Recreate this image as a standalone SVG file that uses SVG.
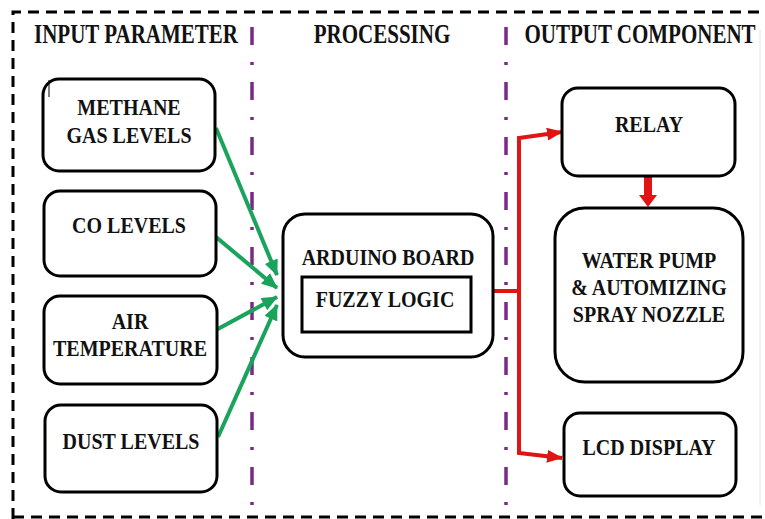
<svg xmlns="http://www.w3.org/2000/svg" width="765" height="519" viewBox="0 0 765 519">
<style>
.bg{fill:#ffffff}
.frame{fill:none;stroke:#000;stroke-width:3;stroke-dasharray:11 7}
.div{fill:none;stroke:#7a2a86;stroke-width:3.5;stroke-dasharray:18 17 3 17}
.box{fill:#fff;stroke:#000;stroke-width:3}
.t{font-family:"Liberation Serif","Times New Roman",serif;font-weight:bold;font-size:20px;fill:#111;text-anchor:middle}
.h{font-size:21px}
.g{fill:none;stroke:#1aa35a;stroke-width:4}
.r{fill:none;stroke:#e01414;stroke-width:4;stroke-linejoin:miter}
</style>
<defs>
<marker id="ag" viewBox="0 0 16 14" refX="15" refY="7" markerWidth="16" markerHeight="14" markerUnits="userSpaceOnUse" orient="auto">
<path d="M0,0 L16,7 L0,14 z" fill="#1aa35a"/>
</marker>
<marker id="ar" viewBox="0 0 16 13" refX="15" refY="6.5" markerWidth="16" markerHeight="13" markerUnits="userSpaceOnUse" orient="auto">
<path d="M0,0 L16,6.5 L0,13 z" fill="#e01414"/>
</marker>
</defs>
<rect class="bg" x="0" y="0" width="765" height="519"/>
<g id="frame">
<path class="frame" d="M13,519 V12 H765"/>
<path class="frame" d="M13,517 H765"/>
<line x1="760" y1="30" x2="760" y2="505" stroke="#e4e4e4" stroke-width="1"/>
<path class="div" d="M252,27 V519"/>
<path class="div" d="M506,27 V519"/>
</g>
<g id="titles">
<text class="t h" transform="translate(136,43) scale(1,1.25)">INPUT PARAMETER</text>
<text class="t h" transform="translate(382,43) scale(1,1.25)">PROCESSING</text>
<text class="t h" transform="translate(640,43) scale(1,1.25)">OUTPUT COMPONENT</text>
</g>
<g id="connectors">
<path class="g" d="M216,128 L277,275" marker-end="url(#ag)"/>
<path class="g" d="M216,237 L277,288" marker-end="url(#ag)"/>
<path class="g" d="M216,330 L277,297" marker-end="url(#ag)"/>
<path class="g" d="M218,437 L277,305" marker-end="url(#ag)"/>
<path class="r" d="M493,291 H519"/>
<path class="r" d="M519,291 V138 L562,132" marker-end="url(#ar)"/>
<path class="r" d="M519,291 V453 L562,458" marker-end="url(#ar)"/>
<path d="M644,177 H652 V195 H657 L648,207 L639,195 H644 Z" fill="#e01414"/>
</g>
<g id="methane">
<rect class="box" x="43" y="79" width="172" height="92" rx="16"/>
<line x1="49" y1="80" x2="49" y2="97" stroke="#000" stroke-width="1"/>
<text class="t" transform="translate(129,115) scale(1,1.2)">METHANE</text>
<text class="t" transform="translate(129,143) scale(1,1.2)">GAS LEVELS</text>
</g>
<g id="co">
<rect class="box" x="44" y="191" width="172" height="85" rx="16"/>
<text class="t" transform="translate(129,233) scale(1,1.2)">CO LEVELS</text>
</g>
<g id="air">
<rect class="box" x="44" y="296" width="173" height="88" rx="16"/>
<text class="t" transform="translate(130,329) scale(1,1.2)">AIR</text>
<text class="t" transform="translate(130,356) scale(1,1.2)">TEMPERATURE</text>
</g>
<g id="dust">
<rect class="box" x="45" y="405" width="172" height="87" rx="16"/>
<text class="t" transform="translate(131,449) scale(1,1.2)">DUST LEVELS</text>
</g>
<g id="arduino">
<rect class="box" x="283" y="214" width="210" height="143" rx="22"/>
<text class="t" transform="translate(388,265) scale(1,1.2)">ARDUINO BOARD</text>
<rect class="box" x="302" y="277" width="169" height="55" rx="0"/>
<text class="t" transform="translate(385,307) scale(1,1.2)">FUZZY LOGIC</text>
</g>
<g id="relay">
<rect class="box" x="562" y="88" width="173" height="88" rx="16"/>
<text class="t" transform="translate(649,132) scale(1,1.2)">RELAY</text>
</g>
<g id="pump">
<rect class="box" x="555" y="208" width="188" height="174" rx="30"/>
<text class="t" transform="translate(649,268) scale(1,1.2)">WATER PUMP</text>
<text class="t" transform="translate(649,295) scale(1,1.2)">&amp; AUTOMIZING</text>
<text class="t" transform="translate(649,322) scale(1,1.2)">SPRAY NOZZLE</text>
</g>
<g id="lcd">
<rect class="box" x="564" y="413" width="172" height="83" rx="16"/>
<text class="t" transform="translate(649,455) scale(1,1.2)">LCD DISPLAY</text>
</g>
</svg>
